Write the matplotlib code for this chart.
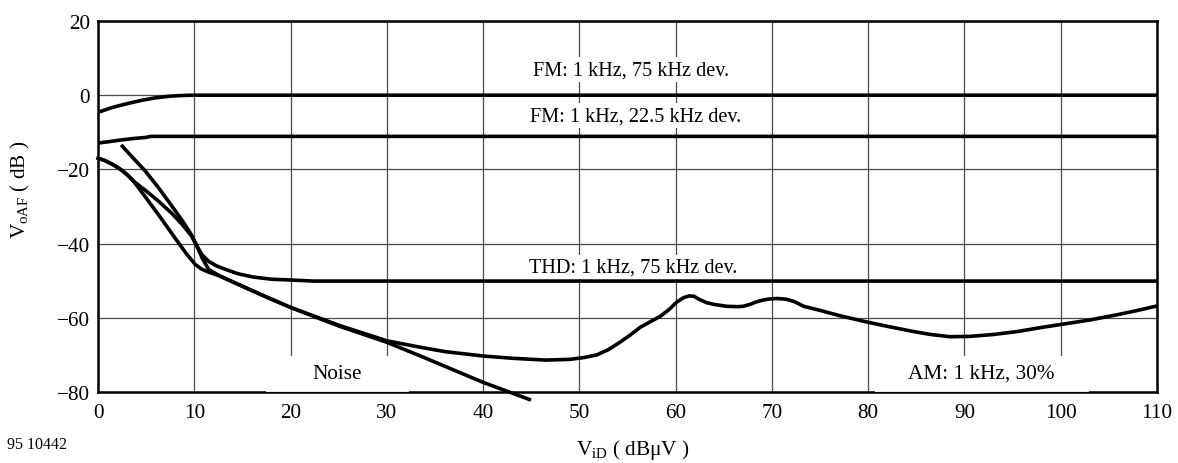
import matplotlib
matplotlib.use("Agg")
import matplotlib.pyplot as plt
from matplotlib.patches import Rectangle

plt.rcParams['font.family'] = ['Liberation Serif', 'DejaVu Serif']
plt.rcParams['mathtext.fontset'] = 'custom'
plt.rcParams['mathtext.rm'] = 'Liberation Serif'
plt.rcParams['mathtext.it'] = 'Liberation Serif:italic'

# FM 1 kHz, 75 kHz deviation
fm75_x = [0, 1.5, 3, 4.5, 6, 7.5, 9, 10, 110]
fm75_y = [-4.6, -3.3, -2.3, -1.4, -0.7, -0.25, -0.05, 0.0, 0.0]

# FM 1 kHz, 22.5 kHz deviation
fm22_x = [0, 1.2, 2.3, 3.6, 4.9, 5.5, 110]
fm22_y = [-12.9, -12.5, -12.1, -11.7, -11.4, -11.1, -11.1]

# THD 1 kHz, 75 kHz deviation
thd_x = [2.4, 3.6, 4.9, 6.3, 7.65, 8.8, 9.7, 10.3, 10.8, 11.5, 12.3, 13.2, 14.5, 16.1, 18, 19.9, 22.4, 110]
thd_y = [-13.4, -16.8, -20.4, -25.0, -29.8, -34.0, -37.6, -40.8, -43.0, -44.8, -46.0, -46.9, -48.1, -49.0, -49.6, -49.8, -50.1, -50.1]

# Noise
noise_x = [0, 0.7, 1.4, 2.0, 2.5, 3.1, 3.7, 5, 6.5, 8, 9.2, 10.1, 10.7, 11.5, 12.7, 15, 17.5, 20, 25, 30, 33.4, 40, 44.8]
noise_y = [-17.0, -17.6, -18.5, -19.4, -20.3, -21.6, -23.2, -27.7, -33.0, -38.5, -42.8, -45.6, -46.8, -47.7, -48.8, -51.5, -54.4, -57.2, -62.2, -66.6, -70.2, -77.4, -82.0]

# AM 1 kHz, 30 %
am_x = [0, 0.7, 1.4, 2.0, 2.5, 3.1, 3.7, 5, 6.3, 7.65, 8.8, 9.7, 10.3, 10.8, 11.5, 12.7, 15, 17.5, 20, 25, 30,
        33.4, 36, 40, 43, 46.5, 49, 50.5, 51.8, 53, 54.2, 55.3, 56.3, 57.4, 58.4, 59.3, 60.1,
        60.8, 61.4, 61.9, 62.5, 63.2, 64, 65.3, 66.4, 67, 67.7, 68.4, 69.1, 69.8, 70.6, 71.5,
        72.3, 73.3, 75, 77, 79.8, 82, 84.5, 86.5, 88.5, 90.6, 93, 95.5, 98, 100, 103, 106, 108, 110]
am_y = [-17.0, -17.6, -18.5, -19.4, -20.3, -21.6, -23.2, -25.8, -28.6, -31.8, -35.0, -37.9, -40.8, -43.8, -47.0, -48.8, -51.5, -54.4, -57.2, -62.0, -66.2,
        -67.9, -69.1, -70.3, -70.9, -71.4, -71.2, -70.7, -70.0, -68.6, -66.6, -64.6, -62.6, -61.0, -59.6, -57.8, -55.8,
        -54.6, -54.1, -54.2, -55.1, -55.9, -56.4, -56.9, -57.0, -56.9, -56.4, -55.7, -55.2, -54.9, -54.8, -55.0,
        -55.6, -56.9, -58.0, -59.4, -61.1, -62.3, -63.6, -64.5, -65.1, -65.0, -64.5, -63.7, -62.6, -61.8, -60.6, -59.1, -58.0, -56.8]

xticks = [0, 10, 20, 30, 40, 50, 60, 70, 80, 90, 100, 110]
yticks = [20, 0, -20, -40, -60, -80]

labels = ['FM: 1 kHz, 75 kHz dev.', 'FM: 1 kHz, 22.5 kHz dev.', 'THD: 1 kHz, 75 kHz dev.', 'Noise', 'AM: 1 kHz, 30%']

fig = plt.figure(figsize=(11.78, 4.64), dpi=100)
ax = fig.add_axes([0.0832, 0.153, 0.899, 0.7996])

ax.set_xlim(0, 110)
ax.set_ylim(-80, 20)
ax.set_xticks(xticks)
ax.set_yticks(yticks)
ax.grid(True, color='#4a4a4a', linewidth=0.9)
ax.tick_params(length=0, labelsize=15.3)
ax.tick_params(axis='y', pad=6)
ax.tick_params(axis='x', pad=8)
for s in ax.spines.values():
    s.set_linewidth(1.8)

lw = 2.6
ax.plot(fm75_x, fm75_y, color='black', lw=lw, zorder=4, solid_capstyle='butt')
ax.plot(fm22_x, fm22_y, color='black', lw=lw, zorder=4, solid_capstyle='butt')
ax.plot(thd_x, thd_y, color='black', lw=lw, zorder=4, solid_capstyle='butt')
ax.plot(noise_x, noise_y, color='black', lw=lw, zorder=4, clip_on=False)
ax.plot(am_x, am_y, color='black', lw=lw, zorder=4, solid_capstyle='butt')

# white label boxes at the bottom (they hide the thick frame, grid stays)
for x0, x1 in [(17.5, 32.3), (80.7, 102.9)]:
    ax.add_patch(Rectangle((x0, -80), x1 - x0, 9.7, facecolor='white', edgecolor='none', zorder=3))
    ax.hlines(-80, x0, x1, color='#4a4a4a', lw=0.9, zorder=3.2)

box = dict(facecolor='white', edgecolor='none', pad=2)
ax.text(55.4, 6.9, labels[0], fontsize=14.6, ha='center', va='center', bbox=box, zorder=3)
ax.text(55.8, -5.5, labels[1], fontsize=14.6, ha='center', va='center', bbox=box, zorder=3)
ax.text(55.6, -46.3, labels[2], fontsize=14.6, ha='center', va='center', bbox=box, zorder=3)
ax.text(24.8, -75, labels[3], fontsize=15.3, ha='center', va='center', zorder=3.5)
ax.text(91.7, -75, labels[4], fontsize=15.3, ha='center', va='center', zorder=3.5)

ax.set_xlabel(r'V$_{\mathrm{iD}}$ ( dB$\mathrm{\mu}$V )', fontsize=15.3)
ax.xaxis.set_label_coords(0.505, -0.12)
ax.set_ylabel(r'V$_{\mathrm{oAF}}$ ( dB )', fontsize=15.3)
ax.yaxis.set_label_coords(-0.062, 0.547)

fig.text(0.006, 0.04, '95 10442', fontsize=11.5, ha='left', va='center')

fig.savefig('out.png', dpi=100)
